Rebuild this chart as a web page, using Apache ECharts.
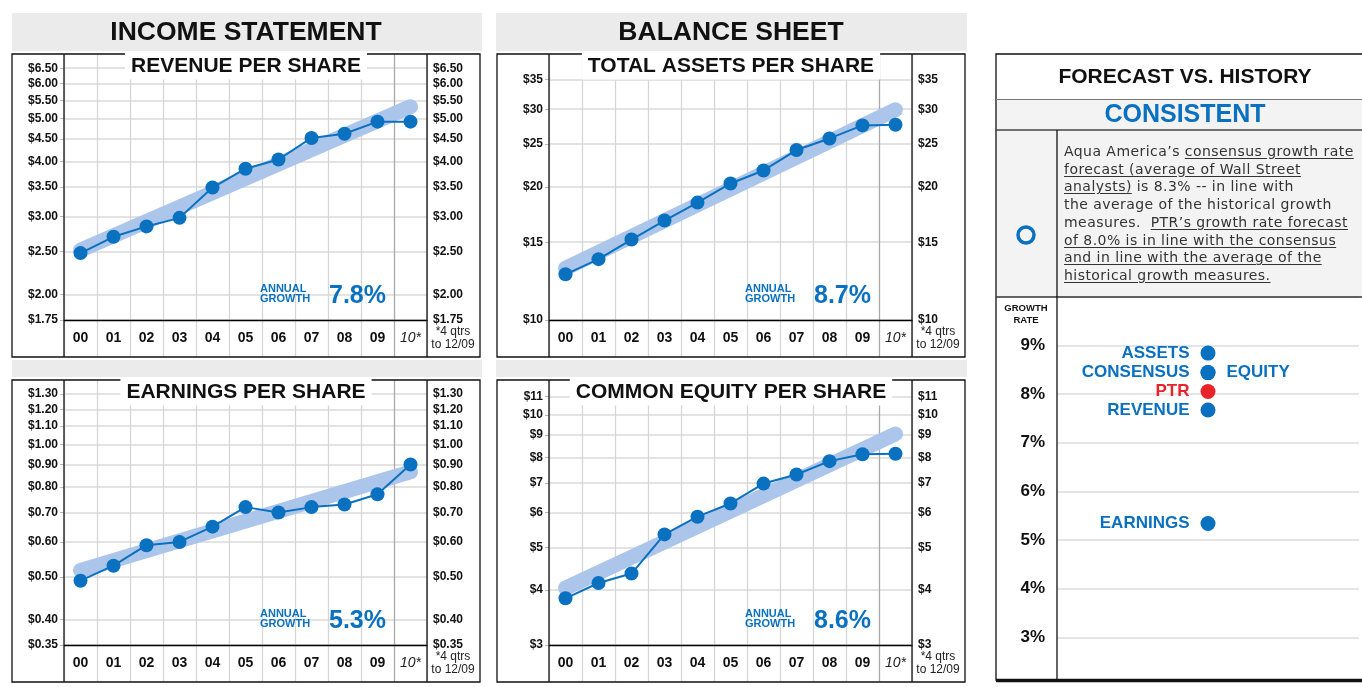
<!DOCTYPE html>
<html>
<head>
<meta charset="utf-8">
<title>Aqua America - Growth</title>
<script src="https://cdn.jsdelivr.net/npm/echarts@6/dist/echarts.min.js"></script>
<style>
    html, body { margin: 0; padding: 0; background: #fff; }
    #main { width: 1362px; height: 687px; }
    #note {
        position: absolute; left: 1064px; top: 143px;
        font: 14px "DejaVu Sans", sans-serif; line-height: 17.7px; letter-spacing: 0.45px;
        color: #333; white-space: pre;
    }
    #note u { text-underline-offset: 2px; }
</style>
</head>
<body>
<div id="main"></div>
<div id="note">Aqua America’s <u>consensus growth rate</u>
<u>forecast (average of Wall Street</u>
<u>analysts)</u> is 8.3% -- in line with
the average of the historical growth
measures.  <u>PTR’s growth rate forecast</u>
<u>of 8.0% is in line with the consensus</u>
<u>and in line with the average of the</u>
<u>historical growth measures.</u></div>

<script>
// values
const years = ['00', '01', '02', '03', '04', '05', '06', '07', '08', '09', '10*'];

const revenue = [2.48, 2.70, 2.85, 2.98, 3.49, 3.85, 4.04, 4.52, 4.62, 4.92, 4.92];
const revenueTrend = [2.52, 5.32];
const revenueTicks = [1.75, 2.00, 2.50, 3.00, 3.50, 4.00, 4.50, 5.00, 5.50, 6.00, 6.50];

const assets = [12.69, 13.73, 15.21, 16.79, 18.44, 20.37, 21.8, 24.25, 25.76, 27.57, 27.67];
const assetsTrend = [13.1, 29.9];
const assetsTicks = [10, 15, 20, 25, 30, 35];

const eps = [0.49, 0.53, 0.59, 0.60, 0.65, 0.72, 0.70, 0.72, 0.73, 0.77, 0.90];
const epsTrend = [0.517, 0.866];
const epsTicks = [0.35, 0.40, 0.50, 0.60, 0.70, 0.80, 0.90, 1.00, 1.10, 1.20, 1.30];

const equity = [3.83, 4.15, 4.36, 5.35, 5.87, 6.29, 6.98, 7.32, 7.85, 8.14, 8.16];
const equityTrend = [4.04, 9.05];
const equityTicks = [3, 4, 5, 6, 7, 8, 9, 10, 11];

const annualGrowth = ['7.8%', '8.7%', '5.3%', '8.6%'];

const growthNames = ['ASSETS', 'CONSENSUS', 'EQUITY', 'PTR', 'REVENUE', 'EARNINGS'];
const growthRates = [8.84, 8.44, 8.44, 8.05, 7.67, 5.34];

const FONT = '"Liberation Sans", Arial, sans-serif';
const BLUE = '#0a70c0';
const RED = '#e8232a';
const BAND = '#abc6ea';

const panels = [
    {title: 'REVENUE PER SHARE', left: 64, top: 54, height: 266, values: revenue, trend: revenueTrend,
        ticks: revenueTicks, min: 1.75, max: 7, dec: 2, growth: annualGrowth[0]},
    {title: 'TOTAL ASSETS PER SHARE', left: 549, top: 54, height: 266, values: assets, trend: assetsTrend,
        ticks: assetsTicks, min: 10, max: 40, dec: 0, growth: annualGrowth[1]},
    {title: 'EARNINGS PER SHARE', left: 64, top: 380, height: 265, values: eps, trend: epsTrend,
        ticks: epsTicks, min: 0.35, max: 1.4, dec: 2, growth: annualGrowth[2]},
    {title: 'COMMON EQUITY PER SHARE', left: 549, top: 380, height: 265, values: equity, trend: equityTrend,
        ticks: equityTicks, min: 3, max: 12, dec: 0, growth: annualGrowth[3]}
];

let grid = [], xAxis = [], yAxis = [], series = [], graphic = [];

function txt(x, y, text, font, fill, align, extra) {
    graphic.push(Object.assign({
        type: 'text', x: x, y: y, z: 50,
        style: {text: text, font: font, fill: fill, textAlign: align || 'center', textVerticalAlign: 'middle'}
    }, extra || {}));
}
function rect(x, y, w, h, fill, stroke, lw, z) {
    graphic.push({
        type: 'rect', z: z == null ? 40 : z, silent: true,
        shape: {x: x, y: y, width: w, height: h},
        style: {fill: fill || 'none', stroke: stroke || null, lineWidth: lw || 1}
    });
}
function line(x1, y1, x2, y2, color, lw) {
    graphic.push({
        type: 'line', z: 45, silent: true,
        shape: {x1: x1, y1: y1, x2: x2, y2: y2},
        style: {stroke: color, lineWidth: lw || 1.3}
    });
}

// page furniture
rect(12, 13, 470, 38, '#ebebeb', null, 1, -5);
rect(496, 13, 471, 38, '#ebebeb', null, 1, -5);
rect(12, 360, 470, 17, '#ebebeb', null, 1, -5);
rect(496, 360, 471, 17, '#ebebeb', null, 1, -5);
txt(246, 33, 'INCOME STATEMENT', 'bold 26.5px ' + FONT, '#111');
txt(731, 33, 'BALANCE SHEET', 'bold 26.5px ' + FONT, '#111');

const vColors = years.map((y, k) => k === 10 ? '#a9a9a9' : '#d6d6d6').concat('#d6d6d6');

panels.forEach((p, i) => {
    const bottom = p.top + p.height;
    const fmt = v => '$' + Math.exp(v).toFixed(p.dec);
    const tickVals = p.ticks.map(t => Math.log(t));
    const labelStyle = {fontFamily: FONT, fontWeight: 'bold', fontSize: 12, color: '#111'};

    grid.push({left: p.left, top: p.top, width: 363, height: p.height});
    grid.push({left: p.left, top: bottom, width: 363, height: 37});

    xAxis.push({
        type: 'category', gridIndex: 2 * i, data: years,
        axisLine: {show: true, onZero: false, lineStyle: {color: '#000', width: 1.3}},
        axisTick: {show: false},
        axisLabel: {
            interval: 0, margin: 11,
            formatter: v => v === '10*' ? '{it|' + v + '}' : '{b|' + v + '}',
            rich: {
                b: {fontFamily: FONT, fontWeight: 'bold', fontSize: 14, color: '#111'},
                it: {fontFamily: FONT, fontStyle: 'italic', fontSize: 14, color: '#222'}
            }
        },
        splitLine: {show: true, interval: 0, lineStyle: {color: vColors, width: 1.3}}
    });
    xAxis.push({
        type: 'category', gridIndex: 2 * i + 1, data: years,
        axisLine: {show: false}, axisTick: {show: false}, axisLabel: {show: false, interval: 0},
        splitLine: {show: true, interval: 0, lineStyle: {color: vColors, width: 1.3}}
    });

    yAxis.push({
        type: 'value', gridIndex: 2 * i, min: Math.log(p.min), max: Math.log(p.max),
        axisLine: {show: false},
        axisTick: {show: true, length: 4, customValues: tickVals, lineStyle: {color: '#bbb'}},
        axisLabel: Object.assign({customValues: tickVals, formatter: fmt, margin: 6}, labelStyle),
        splitLine: {show: true, lineStyle: {color: '#dadada', width: 1.5}}
    });
    yAxis.push({
        type: 'value', gridIndex: 2 * i, position: 'right', min: Math.log(p.min), max: Math.log(p.max),
        axisLine: {show: false},
        axisTick: {show: false, customValues: tickVals},
        axisLabel: Object.assign({customValues: tickVals, formatter: fmt, margin: 6}, labelStyle),
        splitLine: {show: false}
    });
    yAxis.push({type: 'value', gridIndex: 2 * i + 1, show: false});

    series.push({
        type: 'line', xAxisIndex: 2 * i, yAxisIndex: 3 * i, silent: true, z: 2,
        data: [[years[0], Math.log(p.trend[0])], [years[10], Math.log(p.trend[1])]],
        symbol: 'none',
        lineStyle: {color: BAND, width: 15, cap: 'round'}
    });
    series.push({
        type: 'line', xAxisIndex: 2 * i, yAxisIndex: 3 * i, z: 3,
        data: p.values.map(v => Math.log(v)),
        symbol: 'circle', symbolSize: 14,
        itemStyle: {color: BLUE, opacity: 1},
        lineStyle: {color: BLUE, width: 2}
    });

    // frame, dividers and labels
    const x0 = p.left - 52;
    const x1 = p.left + 363;
    rect(x0, p.top, x1 + 53 - x0, p.height + 37, null, '#111', 1.3);
    line(p.left, p.top, p.left, bottom + 37, '#111');
    line(x1, p.top, x1, bottom + 37, '#111');

    txt(p.left + 182, p.top + 12, p.title, 'bold 21px ' + FONT, '#111', 'center', {
        style: {text: p.title, font: 'bold 21px ' + FONT, fill: '#111', textAlign: 'center',
            textVerticalAlign: 'middle', backgroundColor: '#fff', padding: [3, 6]}
    });
    txt(x1 + 26, bottom + 12, '*4 qtrs', '12px ' + FONT, '#222');
    txt(x1 + 26, bottom + 25, 'to 12/09', '12px ' + FONT, '#222');

    const dx = p.left - 64, dy = bottom - 320;
    txt(260 + dx, 294 + dy, 'ANNUAL\nGROWTH', 'bold 11px ' + FONT, BLUE, 'left', {
        style: {text: 'ANNUAL\nGROWTH', font: 'bold 11px ' + FONT, fill: BLUE, textAlign: 'left',
            textVerticalAlign: 'middle', lineHeight: 10}
    });
    txt(329 + dx, 296 + dy, p.growth, 'bold 25px ' + FONT, BLUE, 'left');
});

// forecast vs history panel
rect(997, 100, 370, 197, '#f3f3f3', null, 1, -5);
rect(996, 54, 380, 626, null, '#111', 1.3);
line(996, 99.5, 1362, 99.5, '#777', 1.2);
line(996, 130, 1362, 130, '#444', 1.3);
line(996, 297, 1362, 297, '#333', 1.3);
line(1057, 130, 1057, 682, '#111', 1.3);
line(996, 680.5, 1362, 680.5, '#111', 3.5);
txt(1185, 77, 'FORECAST VS. HISTORY', 'bold 21px ' + FONT, '#111');
txt(1185, 115, 'CONSISTENT', 'bold 25px ' + FONT, BLUE);
graphic.push({
    type: 'circle', z: 50, silent: true,
    shape: {cx: 1026, cy: 235, r: 8},
    style: {fill: 'none', stroke: BLUE, lineWidth: 3.5}
});
txt(1026, 314, 'GROWTH\nRATE', 'bold 9.5px ' + FONT, '#111', 'center', {
    style: {text: 'GROWTH\nRATE', font: 'bold 9.5px ' + FONT, fill: '#111', textAlign: 'center',
        textVerticalAlign: 'middle', lineHeight: 12}
});

const gIdx = xAxis.length;
const gyIdx = yAxis.length;
grid.push({left: 1057, top: 296.6, width: 302, height: 389.6});
xAxis.push({
    type: 'category', gridIndex: grid.length - 1, data: ['rate'], show: false
});
yAxis.push({
    type: 'value', gridIndex: grid.length - 1, min: 2, max: 10, interval: 1,
    axisLine: {show: false}, axisTick: {show: false},
    axisLabel: {
        margin: 12, fontFamily: FONT, fontWeight: 'bold', fontSize: 17, color: '#111',
        formatter: v => (v >= 3 && v <= 9) ? v + '%' : ''
    },
    splitLine: {show: true, showMinLine: false, lineStyle: {color: '#dcdcdc', width: 1.5}}
});
series.push({
    type: 'scatter', xAxisIndex: gIdx, yAxisIndex: gyIdx, z: 5,
    symbolSize: 15,
    data: growthNames.map((n, k) => ({
        name: n,
        value: ['rate', growthRates[k]],
        itemStyle: {color: n === 'PTR' ? RED : BLUE, opacity: 1},
        label: {
            position: n === 'EQUITY' ? 'right' : 'left',
            color: n === 'PTR' ? RED : BLUE
        }
    })),
    label: {
        show: true, formatter: '{b}', distance: 11,
        fontFamily: FONT, fontWeight: 'bold', fontSize: 17
    }
});

let chart = echarts.init(document.getElementById('main'));
chart.setOption({
    animation: false,
    backgroundColor: '#fff',
    grid: grid,
    xAxis: xAxis,
    yAxis: yAxis,
    series: series,
    graphic: {elements: graphic}
});
</script>
</body>
</html>
